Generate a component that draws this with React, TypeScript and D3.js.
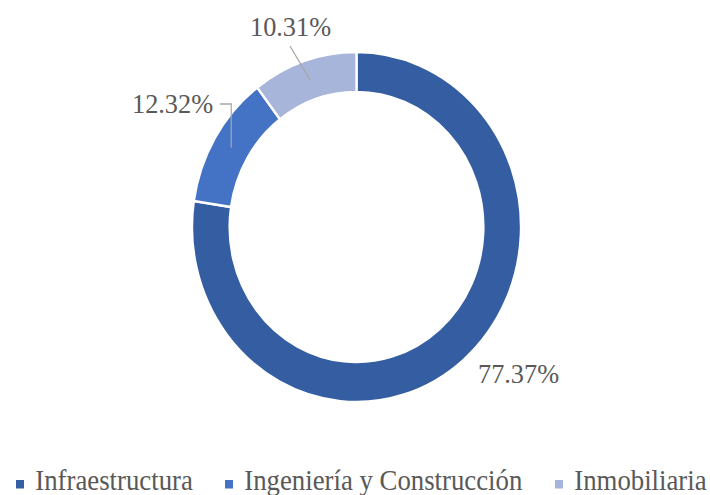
import React from "react";
import * as d3 from "d3";

const categories = ["Infraestructura", "Ingeniería y Construcción", "Inmobiliaria"];
const values = [77.37, 12.32, 10.31];
const labels = ["77.37%", "12.32%", "10.31%"];
const colors = ["#345EA1", "#4472C4", "#A7B5DB"];

const W = 710;
const H = 495;
const SX = 0.94; // horizontal squeeze of the original picture
const cx = 356.5 / SX;
const cy = 227;
const outerR = 175;
const innerR = 135;

const serif = "'Liberation Serif', 'Times New Roman', Tinos, 'DejaVu Serif', 'Noto Serif', serif";

export default function App() {
  const pie = d3.pie<number>().sort(null).value((d) => d);
  const arcs = pie(values);
  const arc = d3.arc<d3.PieArcDatum<number>>().innerRadius(innerR).outerRadius(outerR);
  const midR = (innerR + outerR) / 2;
  const mid = d3.arc<d3.PieArcDatum<number>>().innerRadius(midR).outerRadius(midR);

  const c1 = mid.centroid(arcs[1]);
  const c2 = mid.centroid(arcs[2]);

  const legendX = [16, 225, 555].map((x) => x / SX);

  return (
    <svg width={W} height={H} style={{ position: "absolute", left: 0, top: 0 }}>
      <rect width={W} height={H} fill="#ffffff" />
      <g transform={`scale(${SX},1)`}>
        <g transform={`translate(${cx},${cy})`}>
          {arcs.map((a, i) => (
            <path key={i} d={arc(a) || ""} fill={colors[i]} stroke="#ffffff" strokeWidth={2.5} />
          ))}
          <polyline
            points={`${220 / SX - cx},${104 - cy} ${c1[0]},${104 - cy} ${c1[0]},${c1[1]}`}
            fill="none"
            stroke="#A6A6A6"
            strokeWidth={1.3}
          />
          <line x1={290 / SX - cx} y1={46 - cy} x2={c2[0]} y2={c2[1]} stroke="#A6A6A6" strokeWidth={1.3} />
        </g>
        <g style={{ fontFamily: serif }} fill="#595959" fontSize={28}>
          <text x={478 / SX} y={383}>{labels[0]}</text>
          <text x={132 / SX} y={113}>{labels[1]}</text>
          <text x={250 / SX} y={36}>{labels[2]}</text>
        </g>
        <g style={{ fontFamily: serif }} fill="#595959" fontSize={28.5}>
          {categories.map((c, i) => (
            <g key={c}>
              <rect x={legendX[i]} y={480} width={8.5} height={8.5} fill={colors[i]} />
              <text x={legendX[i] + 20.5} y={490}>{c}</text>
            </g>
          ))}
        </g>
      </g>
    </svg>
  );
}
